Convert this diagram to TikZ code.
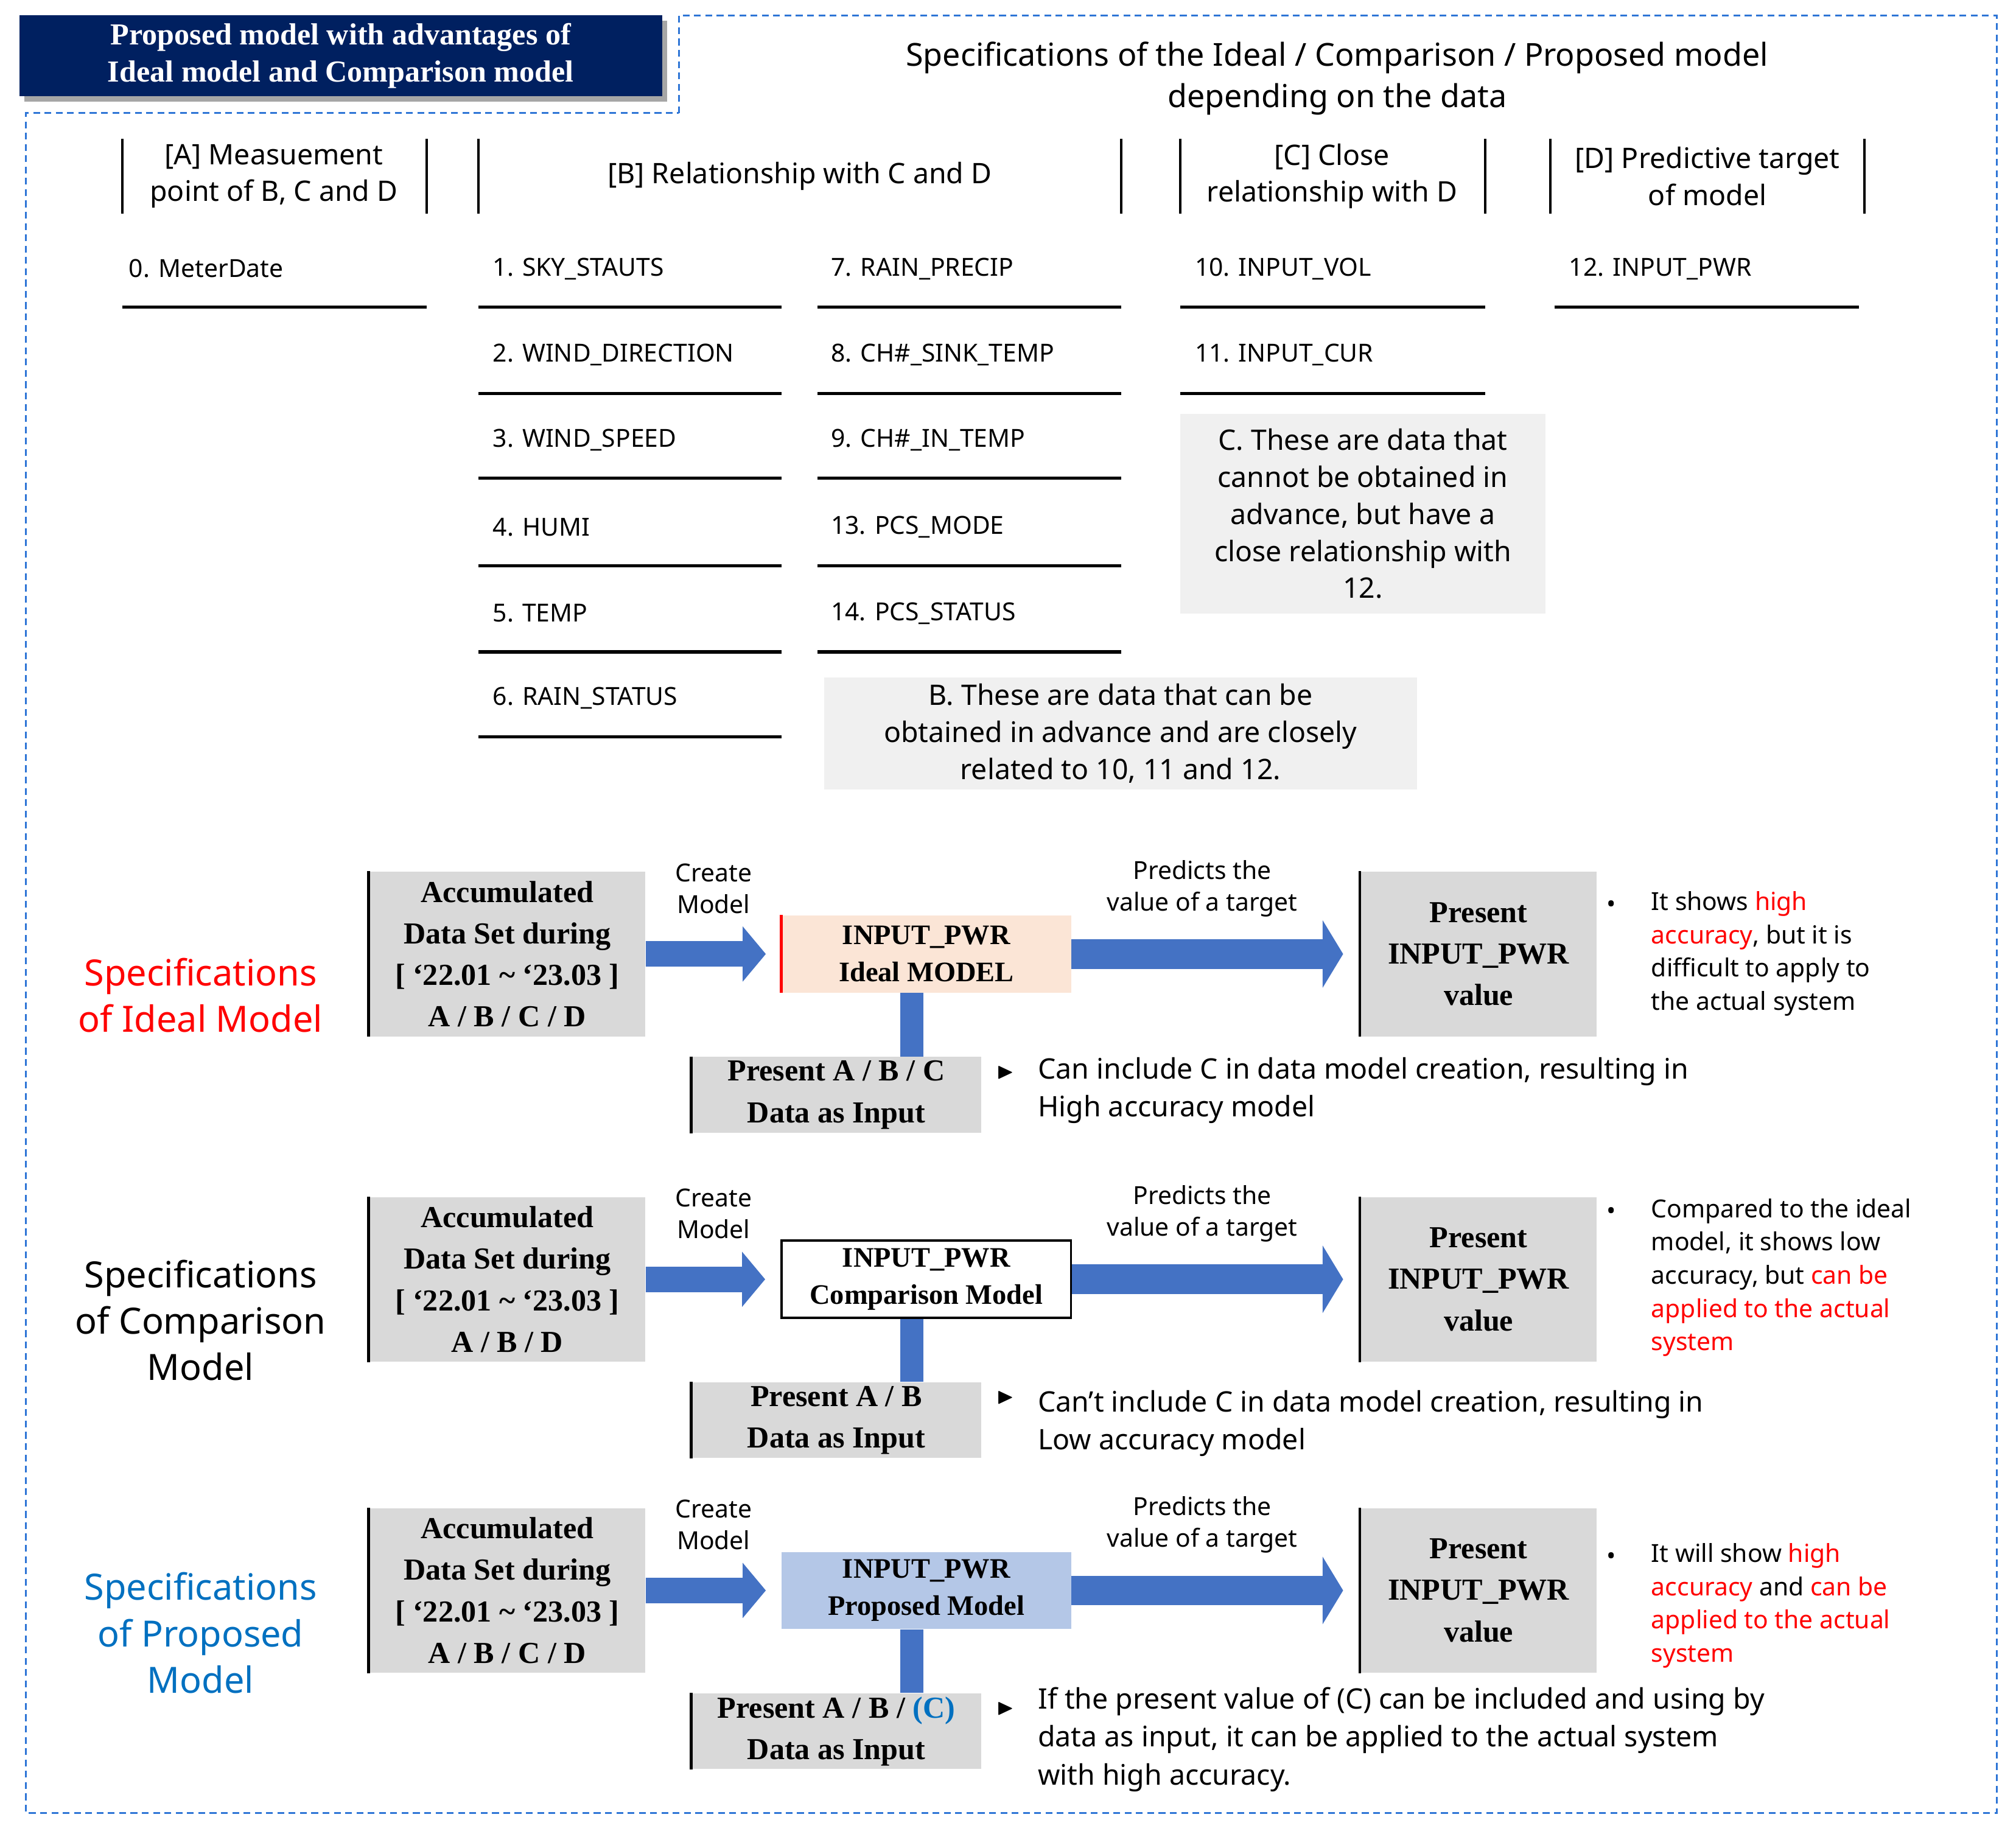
\documentclass[tikz,border=0pt]{standalone}
\usepackage{fontspec}
\usepackage{amssymb}
\setmainfont{Noto Sans}
\newfontfamily\ser{Liberation Serif}
\usetikzlibrary{arrows.meta}
\definecolor{navy}{RGB}{0,32,96}
\definecolor{dashblue}{RGB}{46,117,214}
\definecolor{gbox}{RGB}{217,217,217}
\definecolor{lbox}{RGB}{240,240,240}
\definecolor{arr}{RGB}{68,114,196}
\definecolor{peach}{RGB}{251,229,214}
\definecolor{lblue}{RGB}{180,199,231}
\definecolor{tblue}{RGB}{0,112,192}
\definecolor{tred}{RGB}{255,0,0}
\tikzset{
 item/.style={font=\fontsize{11}{13}\selectfont\bfseries, anchor=west, inner sep=0},
 hdr/.style={font=\fontsize{12.5}{16.4}\selectfont\bfseries, align=center, inner sep=0},
 uline/.style={line width=1.4pt},
 vbar/.style={line width=1.1pt},
 note/.style={fill=lbox, font=\fontsize{12.5}{16.4}\selectfont\bfseries, align=center, inner sep=0},
 sbox/.style={fill=gbox, font=\ser\fontsize{13.5}{18.4}\selectfont\bfseries, align=center, inner sep=0},
 mbox/.style={font=\ser\fontsize{12.5}{16.5}\selectfont\bfseries, align=center, inner sep=0, minimum width=45mm, minimum height=12mm},
 small/.style={font=\fontsize{11}{14}\selectfont\bfseries, align=center, inner sep=0},
 bul/.style={font=\fontsize{11}{14.7}\selectfont\bfseries, align=left, anchor=north west, inner sep=0},
 big/.style={font=\fontsize{12.5}{16.8}\selectfont\bfseries, align=left, anchor=north west, inner sep=0},
 spec/.style={font=\fontsize{16}{20.5}\selectfont\bfseries, align=center, inner sep=0},
}
\newcommand\mrow[6]{%
\begin{scope}[shift={(0,#2)}]
\node[sbox, minimum width=43mm, minimum height=25.6mm] (#1a) at (394.5,742) {Accumulated\\Data Set during\\{}[ ‘22.01 \char`\~\ ‘23.03 ]\\#3};
\draw[line width=1.2pt] (#1a.north west) -- (#1a.south west);
\node[mbox, #4] (#1m) at (720.5,742) {#5};
\node[sbox, minimum width=36.8mm, minimum height=25.6mm] (#1p) at (1150,742) {Present\\INPUT\_PWR\\value};
\draw[line width=1.2pt] (#1p.north west) -- (#1p.south west);
\node[sbox, minimum width=45mm, minimum height=11.8mm] (#1i) at (650.5,851.5) {#6};
\draw[line width=1.2pt] (#1i.north west) -- (#1i.south west);
\draw[arr, line width=3.6mm] ([xshift=-2.3mm]#1m.south) -- ([xshift=-2.3mm]#1m.south |- #1i.north);
\draw[arr, line width=4mm, -{Triangle[length=3.6mm 0 0, width=8.4mm 0 0]}] (#1a.east) -- ([xshift=-2.4mm]#1m.west);
\draw[arr, line width=4.6mm, -{Triangle[length=3.2mm 0 0, width=10.4mm 0 0]}] (#1m.east) -- ([xshift=-2.6mm]#1p.west);
\node[small] (#1c) at (555,691) {Create\\Model};
\node[small] (#1t) at (935,691) {Predicts the\\value of a target};
\node[font=\fontsize{10}{10}\selectfont, inner sep=0] (#1tri) at (782,834) {$\blacktriangleright$};
\end{scope}}
\begin{document}
\begin{tikzpicture}[x=0.2mm,y=-0.2mm]
\useasboundingbox (0,0) rectangle (1568,1426);
% dashed frame
\draw[dashblue, densely dashed, line width=0.8pt] (528,88) -- (528,12) -- (1553,12) -- (1553,1410) -- (20,1410) -- (20,88) -- cycle;
\fill[black!35] (19,16) rectangle (519,79);
\node[fill=navy, minimum width=100mm, minimum height=12.6mm, inner sep=0, text=white, align=center, font=\ser\fontsize{13.5}{16.5}\selectfont\bfseries] (ttl) at (265,43.5) {Proposed model with advantages of\\Ideal model and Comparison model};
\node[font=\fontsize{14}{18.5}\selectfont\bfseries, align=center, inner sep=0] (head) at (1040,61) {Specifications of the Ideal / Comparison / Proposed model\\depending on the data};
% headers
\foreach \x/\n in {95/a1,332/a2,372/b1,872/b2,918/c1,1155/c2,1206/d1,1450/d2}
  \draw[vbar] (\x,108) coordinate (\n t) -- (\x,166) coordinate (\n b);
\node[hdr] (ha) at (213,137) {[A] Measuement\\point of B, C and D};
\node[hdr] (hb) at (622,137) {[B] Relationship with C and D};
\node[hdr] (hc) at (1036,137) {[C] Close\\relationship with D};
\node[hdr] (hd) at (1328,137) {[D] Predictive target\\of model};
% items
\node[item] (i0) at (100,209) {0. MeterDate};
\draw[uline] (95,239) coordinate (l0a) -- (332,239) coordinate (l0b);
\foreach \t/\y [count=\k] in {1. SKY\_STAUTS/209,2. WIND\_DIRECTION/276,3. WIND\_SPEED/342,4. HUMI/410,5. TEMP/477,6. RAIN\_STATUS/543}{
  \node[item] (ib\k) at (383,\y) {\t};
  \draw[uline] (372,\y+30) coordinate (lb\k a) -- (608,\y+30) coordinate (lb\k b);}
\foreach \t/\y [count=\k] in {7. RAIN\_PRECIP/209,8. CH\#\_SINK\_TEMP/276,9. CH\#\_IN\_TEMP/342,13. PCS\_MODE/410,14. PCS\_STATUS/477}{
  \node[item] (ie\k) at (646,\y) {\t};
  \draw[uline] (636,\y+30) coordinate (le\k a) -- (872,\y+30) coordinate (le\k b);}
\foreach \t/\y [count=\k] in {10. INPUT\_VOL/209,11. INPUT\_CUR/276}{
  \node[item] (ic\k) at (929,\y) {\t};
  \draw[uline] (918,\y+30) coordinate (lc\k a) -- (1155,\y+30) coordinate (lc\k b);}
\node[item] (id1) at (1220,209) {12. INPUT\_PWR};
\draw[uline] (1209,239) coordinate (ld1a) -- (1446,239) coordinate (ld1b);
\node[note, minimum width=56.8mm, minimum height=31mm] (nc) at (1060,399.5) {C. These are data that\\cannot be obtained in\\advance, but have a\\close relationship with\\12.};
\node[note, minimum width=92.2mm, minimum height=17.4mm] (nb) at (871.5,570.5) {B. These are data that can be\\obtained in advance and are closely\\related to 10, 11 and 12.};
% rows
\mrow{a}{0}{A / B / C / D}{fill=peach}{INPUT\_PWR\\Ideal MODEL}{Present A / B / C\\Data as Input}
\draw[tred, line width=1.2pt] (am.north west) -- (am.south west);
\mrow{b}{253}{A / B / D}{draw=black, line width=1pt, fill=white}{INPUT\_PWR\\Comparison Model}{Present A / B\\Data as Input}
\mrow{c}{495}{A / B / C / D}{fill=lblue}{INPUT\_PWR\\Proposed Model}{Present A / B / \textcolor{tblue}{(C)}\\Data as Input}
% left labels
\node[spec, text=tred] (sa) at (156,774) {Specifications\\of Ideal Model};
\node[spec] (sb) at (156,1027) {Specifications\\of Comparison\\Model};
\node[spec, text=tblue] (sc) at (156,1270) {Specifications\\of Proposed\\Model};
% bullets
\node[font=\fontsize{11}{11}\selectfont\bfseries, inner sep=0] (ba) at (1253,705) {•};
\node[bul] (ta) at (1284,693) {It shows \textcolor{tred}{high}\\\textcolor{tred}{accuracy}, but it is\\difficult to apply to\\the actual system};
\node[font=\fontsize{11}{11}\selectfont\bfseries, inner sep=0] (bb) at (1253,944) {•};
\node[bul] (tb) at (1284,932) {Compared to the ideal\\model, it shows low\\accuracy, but \textcolor{tred}{can be}\\\textcolor{tred}{applied to the actual}\\\textcolor{tred}{system}};
\node[font=\fontsize{11}{11}\selectfont\bfseries, inner sep=0] (bc) at (1253,1212) {•};
\node[bul] (tc) at (1284,1200) {It will show \textcolor{tred}{high}\\\textcolor{tred}{accuracy} and \textcolor{tred}{can be}\\\textcolor{tred}{applied to the actual}\\\textcolor{tred}{system}};
% notes
\node[big] (na) at (807,822) {Can include C in data model creation, resulting in\\High accuracy model};
\node[big] (nbb) at (807,1081) {Can't include C in data model creation, resulting in\\Low accuracy model};
\node[big] (ncc) at (807,1312) {If the present value of (C) can be included and using by\\data as input, it can be applied to the actual system\\with high accuracy.};
\end{tikzpicture}
\end{document}
